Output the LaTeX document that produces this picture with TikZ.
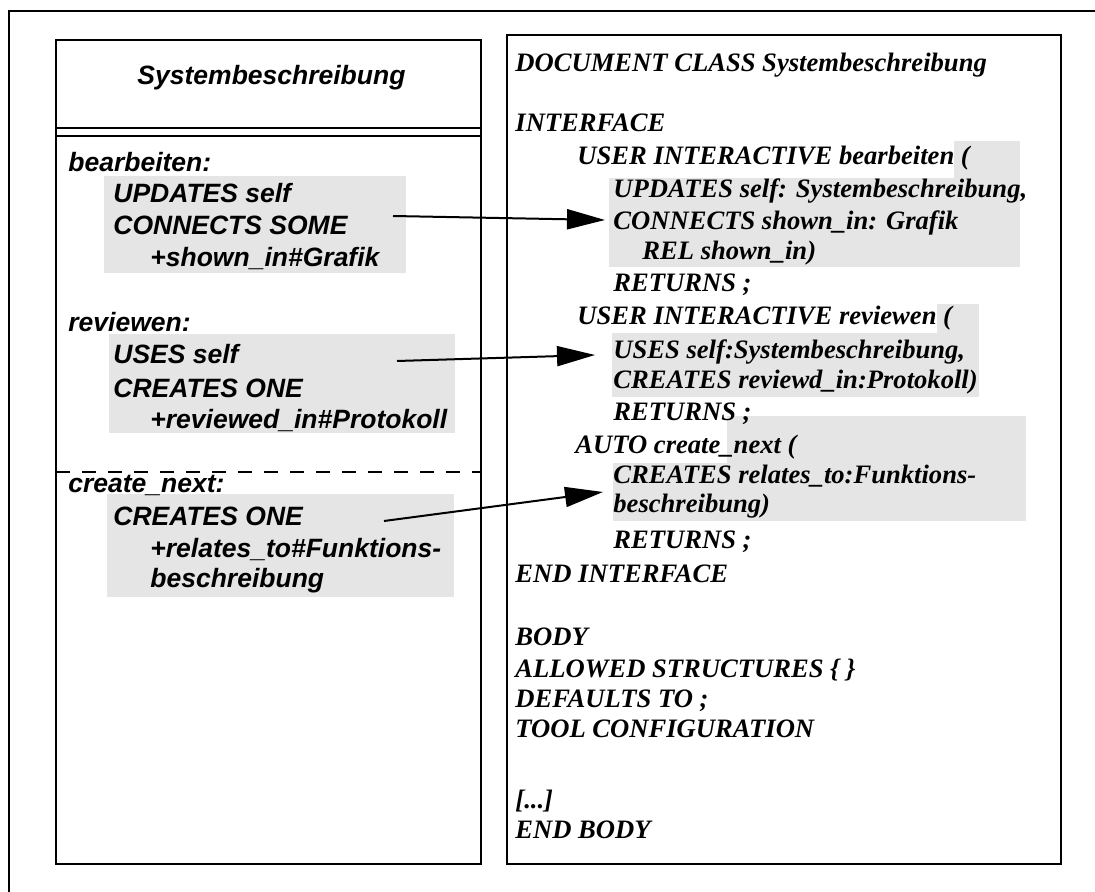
\documentclass[tikz,border=0pt]{standalone}
\usepackage{fontspec}
\setmainfont{Liberation Serif}
\newfontfamily\lsans{Liberation Sans}
\usetikzlibrary{arrows.meta}

\definecolor{hl}{HTML}{E5E5E5}

\tikzset{
  frame/.style={draw=black, line width=1.25pt},
  hlbox/.style={fill=hl, draw=none},
  lt/.style={anchor=base west, inner sep=0pt,
    font=\lsans\bfseries\itshape\fontsize{13.25}{16}\selectfont},
  rt/.style={anchor=base west, inner sep=0pt,
    font=\bfseries\itshape\fontsize{13.3}{16}\selectfont},
  link/.style={line width=1pt, -{Triangle[length=19pt, width=10pt]}},
}

\begin{document}
\begin{tikzpicture}[x=0.5pt, y=-0.5pt]
\useasboundingbox (0,0) rectangle (1095,892);

% outer frame (continues beyond the page edge)
\draw[frame] (9,892) -- (9,11) -- (1095,11);

% highlighted regions, left class box
\fill[hlbox] (104,176) rectangle (406,273);
\fill[hlbox] (109,334) rectangle (455,433);
\fill[hlbox] (107,494) rectangle (454,597);

% highlighted regions, document class text
\fill[hlbox] (954,141) rectangle (1020,178);
\fill[hlbox] (609,178) rectangle (1020,267);
\fill[hlbox] (937,304) rectangle (979,333);
\fill[hlbox] (612,333) rectangle (979,397);
\fill[hlbox] (727,416) rectangle (1026,463);
\fill[hlbox] (613,463) rectangle (1026,521);

% class box
\draw[frame] (56,40) rectangle (481,864);
\draw[frame] (56,128) -- (481,128);
\draw[frame] (56,136) -- (481,136);
\draw[line width=1pt, dash pattern=on 7pt off 6pt] (56,472) -- (481,472);

% document class box
\draw[frame] (507,35) rectangle (1061,864);

% class box texts
\node[lt, anchor=base] (ltitle) at (271.5,85) {Systembeschreibung};

\node[lt] (lop1)  at (68,172)  {bearbeiten:};
\node[lt] (lop1a) at (113,203) {UPDATES self};
\node[lt] (lop1b) at (113,235) {CONNECTS SOME};
\node[lt] (lop1c) at (150,267) {+shown\_in\#Grafik};

\node[lt] (lop2)  at (68,332)  {reviewen:};
\node[lt] (lop2a) at (113,364) {USES self};
\node[lt] (lop2b) at (113,397) {CREATES ONE};
\node[lt] (lop2c) at (150,428) {+reviewed\_in\#Protokoll};

\node[lt] (lop3)  at (68,492)  {create\_next:};
\node[lt] (lop3a) at (113,525) {CREATES ONE};
\node[lt] (lop3b) at (150,557) {+relates\_to\#Funktions-};
\node[lt] (lop3c) at (150,587) {beschreibung};

% document class texts
\node[rt] (r01) at (515,72)  {DOCUMENT CLASS Systembeschreibung};
\node[rt] (r02) at (515,132) {INTERFACE};
\node[rt] (r03) at (577,165) {USER INTERACTIVE bearbeiten (};
\node[rt] (r04) at (613,198) {UPDATES self: Systembeschreibung,};
\node[rt] (r05) at (613,230) {CONNECTS shown\_in: Grafik};
\node[rt] (r06) at (642,260) {REL shown\_in)};
\node[rt] (r07) at (613,292) {RETURNS ;};
\node[rt] (r08) at (577,325) {USER INTERACTIVE reviewen (};
\node[rt] (r09) at (613,358) {USES self:Systembeschreibung,};
\node[rt] (r10) at (613,388) {CREATES reviewd\_in:Protokoll)};
\node[rt] (r11) at (613,420) {RETURNS ;};
\node[rt] (r12) at (575,453) {AUTO create\_next (};
\node[rt] (r13) at (613,483) {CREATES relates\_to:Funktions-};
\node[rt] (r14) at (613,512) {beschreibung)};
\node[rt] (r15) at (613,548) {RETURNS ;};
\node[rt] (r16) at (515,582) {END INTERFACE};
\node[rt] (r17) at (515,645) {BODY};
\node[rt] (r18) at (515,677) {ALLOWED STRUCTURES \{ \}};
\node[rt] (r19) at (515,707) {DEFAULTS TO ;};
\node[rt] (r20) at (515,737) {TOOL CONFIGURATION};
\node[rt] (r21) at (515,808) {[...]};
\node[rt] (r22) at (515,838) {END BODY};

% connector end points
\coordinate (s1) at (393,216);
\coordinate (t1) at (605,220);
\coordinate (s2) at (397,361);
\coordinate (t2) at (595,355);
\coordinate (s3) at (384,521);
\coordinate (t3) at (603,492);

\draw[link] (s1) -- (t1);
\draw[link] (s2) -- (t2);
\draw[link] (s3) -- (t3);
\end{tikzpicture}
\end{document}
